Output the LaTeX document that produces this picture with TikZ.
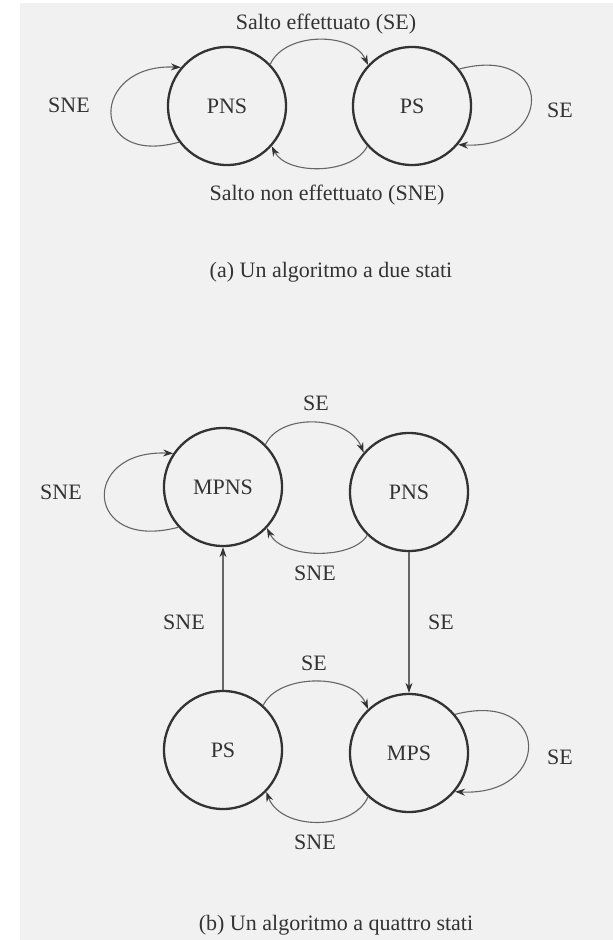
\documentclass[tikz,border=0pt]{standalone}
\usepackage{fontspec}
\setmainfont{Liberation Serif}
\usetikzlibrary{arrows.meta}
\definecolor{ink}{HTML}{333333}
\definecolor{arcink}{HTML}{666666}
\definecolor{paper}{HTML}{F1F1F1}
\begin{document}
\begin{tikzpicture}[x=1pt,y=-1pt,
  state/.style={circle,draw=ink,line width=2.3pt,minimum size=118pt,inner sep=0pt,
    font=\fontsize{22}{26}\selectfont,text=ink},
  lbl/.style={font=\fontsize{22}{26}\selectfont,text=ink,inner sep=0pt,anchor=base},
  trans/.style={draw=arcink,line width=1.1pt,-{Stealth[length=10pt,width=7pt,color=ink]}}]
\useasboundingbox (0,0) rectangle (613,940);
\fill[white] (0,0) rectangle (613,940);
\fill[paper] (20,3) rectangle (613,940);

% ---------- (a) ----------
\node[state] (pns) at (227,106) {PNS};
\node[state] (ps) at (412,106) {PS};
\draw[trans] (pns.44) .. controls +(15,-33) and +(-15,-33) .. (ps.137);
\draw[trans] (ps.222) .. controls +(-15,29) and +(15,29) .. (pns.318);
\draw[trans] (pns.217) .. controls +(-91,25) and +(-91,-4) .. (pns.140);
\draw[trans] (ps.38) .. controls +(96,-25) and +(96,5) .. (ps.-40);
\node[lbl] (lseA) at (326,29) {Salto effettuato (SE)};
\node[lbl] (lsneA) at (327,200) {Salto non effettuato (SNE)};
\node[lbl] (lsneL) at (69,112) {SNE};
\node[lbl] (lseR) at (560,117) {SE};
\node[lbl] (capA) at (331,277) {(a) Un algoritmo a due stati};

% ---------- (b) ----------
\node[state] (mpns) at (223,487) {MPNS};
\node[state] (pnsb) at (409,492) {PNS};
\node[state] (psb) at (223,750) {PS};
\node[state] (mps) at (409,753) {MPS};
\draw[trans] (mpns.45) .. controls +(15,-32) and +(-15,-37) .. (pnsb.139);
\draw[trans] (pnsb.226) .. controls +(-15,25) and +(15,31) .. (mpns.317);
\draw[trans] (mpns.222) .. controls +(-94,25) and +(-94,-4) .. (mpns.146);
\draw[trans] (psb.north) -- (mpns.south);
\draw[trans] (pnsb.south) -- (mps.north);
\draw[trans] (psb.48) .. controls +(15,-32) and +(-15,-36) .. (mps.133);
\draw[trans] (mps.227) .. controls +(-15,34) and +(15,39) .. (psb.316);
\draw[trans] (mps.40) .. controls +(97,-25) and +(97,5) .. (mps.-40);
\node[lbl] (l1) at (316,410) {SE};
\node[lbl] (l2) at (315,580) {SNE};
\node[lbl] (l3) at (61,499) {SNE};
\node[lbl] (l4) at (184,629) {SNE};
\node[lbl] (l5) at (441,629) {SE};
\node[lbl] (l6) at (314,670) {SE};
\node[lbl] (l7) at (315,849) {SNE};
\node[lbl] (l8) at (560,764) {SE};
\node[lbl] (capB) at (336,930) {(b) Un algoritmo a quattro stati};
\end{tikzpicture}
\end{document}
